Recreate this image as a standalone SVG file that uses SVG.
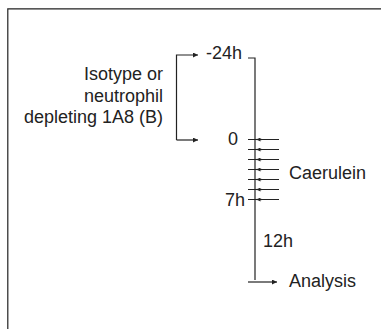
<svg xmlns="http://www.w3.org/2000/svg" width="381" height="329" viewBox="0 0 381 329">
<defs>
<marker id="ah" viewBox="0 0 6 6" refX="6" refY="3" markerWidth="5" markerHeight="5" markerUnits="userSpaceOnUse" orient="auto">
<path d="M0,0 L6,3 L0,6 Z" fill="#222"/>
</marker>
<marker id="ahs" viewBox="0 0 6 6" refX="6" refY="3" markerWidth="4" markerHeight="4" markerUnits="userSpaceOnUse" orient="auto">
<path d="M0,0 L6,3 L0,6 Z" fill="#222"/>
</marker>
</defs>
<style>
.ln{stroke:#222;stroke-width:1.2;fill:none}
.tk{stroke:#222;stroke-width:1.2;fill:none;marker-end:url(#ahs)}
.t{font-family:"Liberation Sans",Arial,sans-serif;font-size:18px;fill:#222}
</style>
<rect width="381" height="329" fill="#fff"/>
<path class="ln" d="M7.8,329 V8.8 H381" stroke-width="1.6"/>
<g id="connectors">
<path class="ln" d="M248,58 H255 V280"/>
<path class="ln" d="M176.5,140 V55 H198" marker-end="url(#ah)"/>
<path class="ln" d="M176.5,140 H198" marker-end="url(#ah)"/>
<path class="ln" d="M248,282 H277" marker-end="url(#ah)"/>
<g id="caerulein-ticks">
<path class="ln" d="M248,139.5 H279 M248,149.5 H279 M248,159.5 H279 M248,169.5 H279 M248,179.5 H279 M248,189.5 H279 M248,199.5 H279"/>
<path class="tk" d="M262,139.5 H256.5"/>
<path class="tk" d="M262,149.5 H256.5"/>
<path class="tk" d="M262,159.5 H256.5"/>
<path class="tk" d="M262,169.5 H256.5"/>
<path class="tk" d="M262,179.5 H256.5"/>
<path class="tk" d="M262,189.5 H256.5"/>
<path class="tk" d="M262,199.5 H256.5"/>
</g>
</g>
<g id="label-treatment">
<text class="t" x="163" y="80" text-anchor="end">Isotype or</text>
<text class="t" x="163" y="101.5" text-anchor="end">neutrophil</text>
<text class="t" x="163" y="123" text-anchor="end">depleting 1A8 (B)</text>
</g>
<g id="t-minus24"><text class="t" x="242" y="58.5" text-anchor="end">-24h</text></g>
<g id="t-0"><text class="t" x="238" y="145" text-anchor="end">0</text></g>
<g id="t-7h"><text class="t" x="245" y="206" text-anchor="end">7h</text></g>
<g id="caerulein"><text class="t" x="289" y="179">Caerulein</text></g>
<g id="t-12h"><text class="t" x="263" y="247">12h</text></g>
<g id="analysis"><text class="t" x="289" y="287">Analysis</text></g>
</svg>
